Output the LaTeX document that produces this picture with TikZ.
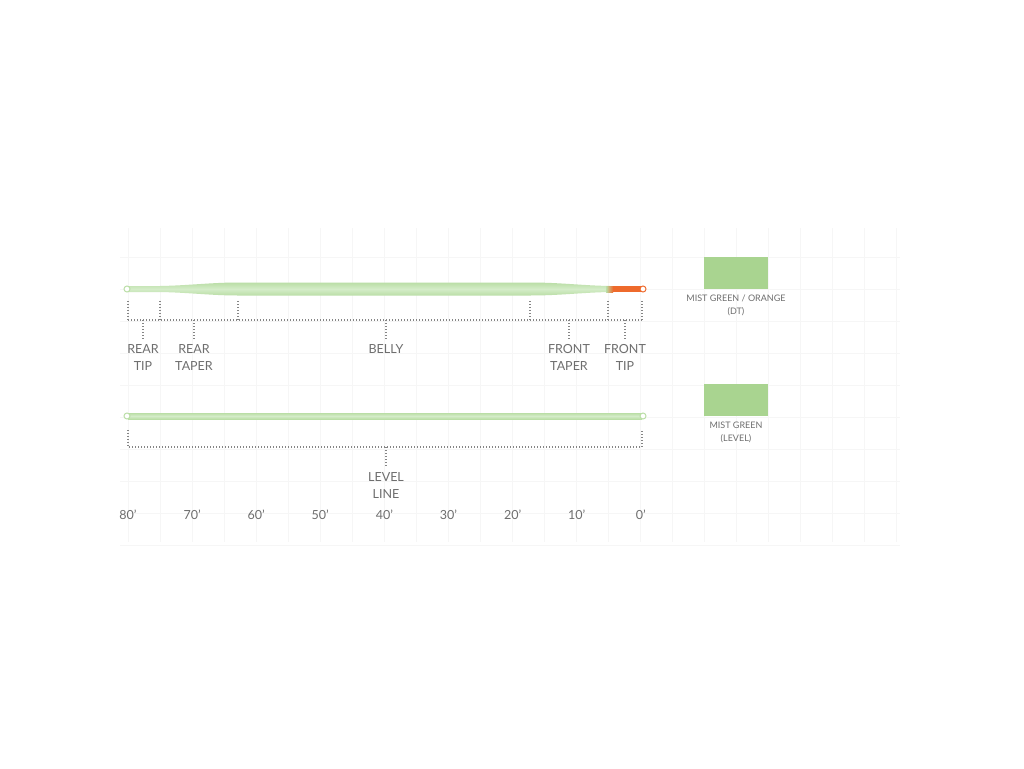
\documentclass[tikz,border=0pt]{standalone}
\usepackage{fontspec}
\setmainfont{Lato}
\usetikzlibrary{positioning}
\definecolor{mist}{HTML}{A9D490}
\definecolor{linegreen}{HTML}{BADEA6}
\definecolor{linelight}{HTML}{D4ECC8}
\definecolor{tiporange}{HTML}{EE6A2C}
\definecolor{labelgray}{HTML}{6E6E6E}
\definecolor{dotgray}{HTML}{858585}
\definecolor{gridgray}{HTML}{F6F6F6}
\begin{document}
\begin{tikzpicture}[x=0.25mm,y=-0.25mm,
  lbl/.style={font=\fontsize{8.9}{12}\selectfont,text=labelgray,align=center,inner sep=0pt},
  swlbl/.style={font=\fontsize{6.4}{9.2}\selectfont,text=labelgray,align=center,inner sep=0pt},
  dotln/.style={draw=dotgray,line width=0.75pt,dash pattern=on 0.711pt off 1.423pt},
  gridln/.style={draw=gridgray,line width=0.4pt},
  flyline/.style={top color=linegreen,bottom color=linegreen,middle color=linelight},
  swatch/.style={fill=mist,minimum width=16mm,minimum height=8mm,inner sep=0pt},
  loopend/.style={fill=white,line width=0.7pt}]
  \useasboundingbox[fill=white] (0,0) rectangle (1024,768);
  % faint background grid
  \foreach \x in {128,160,...,896} { \draw[gridln] (\x,228) -- (\x,542); }
  \foreach \y in {257,289,...,545} { \draw[gridln] (120,\y) -- (900,\y); }

  % double taper line
  \shade[flyline] (128,286) -- (160,286) .. controls (188,285.5) and (212,282.5) .. (238,282.5)
    -- (530,282.5) .. controls (560,282.5) and (582,285.5) .. (610,286) -- (610,292)
    .. controls (582,292.5) and (560,295.5) .. (530,295.5) -- (238,295.5)
    .. controls (212,295.5) and (188,292.5) .. (160,292) -- (128,292) -- cycle;
  \shade[left color=linegreen,right color=tiporange] (606,286) rectangle (613,292);
  \fill[tiporange] (613,286) rectangle (641,292);
  \draw[loopend,draw=linegreen] (127,289) circle (3);
  \draw[loopend,draw=tiporange] (643,289) circle (3);

  % section brackets
  \foreach \x/\n in {128/a,160/b,238/c,530/d,608/e,642/f} {
    \coordinate (t\n) at (\x,301);
    \coordinate (b\n) at (\x,320);
    \draw[dotln] (t\n) -- (b\n);
  }
  \draw[dotln] (ba) -- (bf);
  \node[lbl,anchor=north] (reartip) at (143,344) {REAR\\TIP};
  \node[lbl,anchor=north] (reartaper) at (194,344) {REAR\\TAPER};
  \node[lbl,anchor=north] (belly) at (386,344) {BELLY};
  \node[lbl,anchor=north] (fronttaper) at (569,344) {FRONT\\TAPER};
  \node[lbl,anchor=north] (fronttip) at (625,344) {FRONT\\TIP};
  \foreach \n in {reartip,reartaper,belly,fronttaper,fronttip} {
    \draw[dotln,shorten >=1.3mm] (\n.north |- ba) -- (\n.north);
  }

  % level line
  \shade[flyline] (128,413) rectangle (642,419);
  \draw[loopend,draw=linegreen] (127,416) circle (3);
  \draw[loopend,draw=linegreen] (643,416) circle (3);
  \coordinate (la) at (128,430);
  \coordinate (lb) at (128,447);
  \coordinate (lc) at (642,430);
  \coordinate (ld) at (642,447);
  \draw[dotln] (la) -- (lb) -- (ld) -- (lc);
  \node[lbl,anchor=north] (levelline) at (386,472) {LEVEL\\LINE};
  \draw[dotln,shorten >=1.3mm] (levelline.north |- lb) -- (levelline.north);

  % length scale
  \foreach \i in {0,...,8} {
    \pgfmathtruncatemacro\ft{80-10*\i}
    \node[lbl] (ft\i) at (128+\i*64.1,515) {\ft’};
  }

  % colour swatches
  \node[swatch] (swdt) at (736,273) {};
  \node[swlbl,below=1.4mm of swdt] (swdtlbl) {MIST GREEN / ORANGE\\(DT)};
  \node[swatch] (swlevel) at (736,400) {};
  \node[swlbl,below=1.4mm of swlevel] (swlevellbl) {MIST GREEN\\(LEVEL)};
\end{tikzpicture}
\end{document}
